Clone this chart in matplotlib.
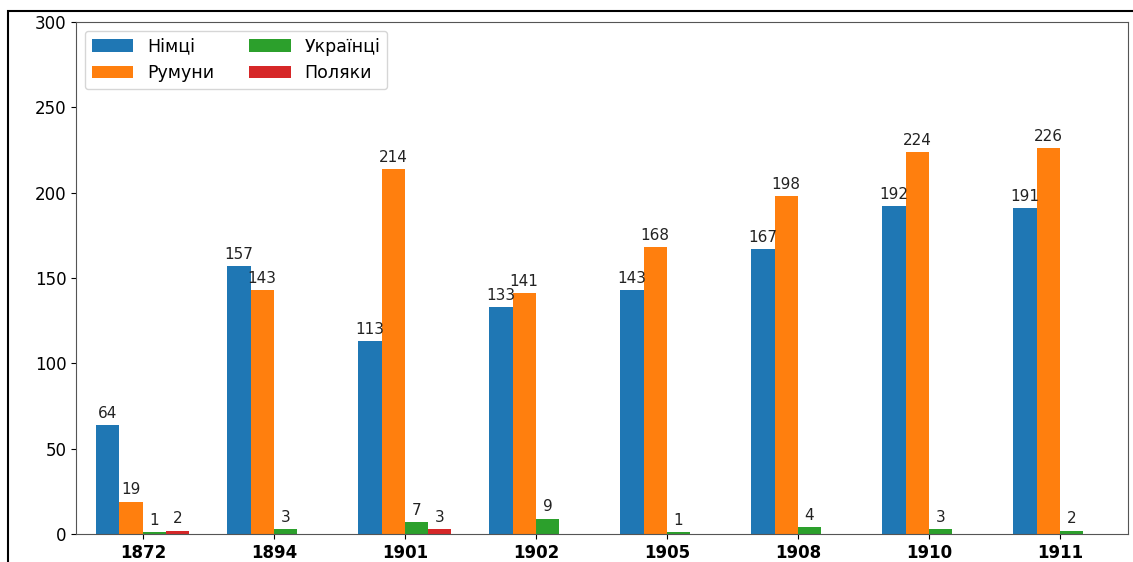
import matplotlib
matplotlib.use("Agg")
import matplotlib.pyplot as plt
import numpy as np
from matplotlib.patches import Rectangle

years = ["1872", "1894", "1901", "1902", "1905", "1908", "1910", "1911"]
nimtsi = [64, 157, 113, 133, 143, 167, 192, 191]
rumuny = [19, 143, 214, 141, 168, 198, 224, 226]
ukraintsi = [1, 3, 7, 9, 1, 4, 3, 2]
polyaky = [2, 0, 3, 0, 0, 0, 0, 0]
series_names = ["Німці", "Румуни", "Українці", "Поляки"]
yticks = [0, 50, 100, 150, 200, 250, 300]

colors = ["#1f77b4", "#ff7f0e", "#2ca02c", "#d62728"]
W, H = 1133, 562
fig = plt.figure(figsize=(W / 100, H / 100), dpi=100)
ax = fig.add_axes([76 / W, 1 - 534 / H, (1128 - 76) / W, (534 - 22) / H])

x = np.arange(len(years))
w = 0.178
all_series = [nimtsi, rumuny, ukraintsi, polyaky]
for i, (vals, name, c) in enumerate(zip(all_series, series_names, colors)):
    bars = ax.bar(x + (i - 1.5) * w, vals, w, color=c, label=name)
    labels = [str(v) if v != 0 else "" for v in vals]
    ax.bar_label(bars, labels=labels, padding=3, fontsize=11, color="#222222")

ax.set_xlim(-0.51, 7.52)
ax.set_ylim(0, 300)
ax.set_yticks(yticks)
ax.set_xticks(x)
ax.set_xticklabels(years, fontweight="bold", fontsize=12)
ax.tick_params(axis="y", labelsize=12)
for s in ax.spines.values():
    s.set_color("#555555")
ax.legend(loc="upper left", ncol=2, fontsize=12.5, handlelength=2.4,
          columnspacing=2.0, borderaxespad=0.5)

fig.add_artist(Rectangle((8 / W, -0.1), 1.2, 1 - 11 / H + 0.1, transform=fig.transFigure,
                         fill=False, edgecolor="black", linewidth=1.5))

fig.savefig("out.png", dpi=100)
